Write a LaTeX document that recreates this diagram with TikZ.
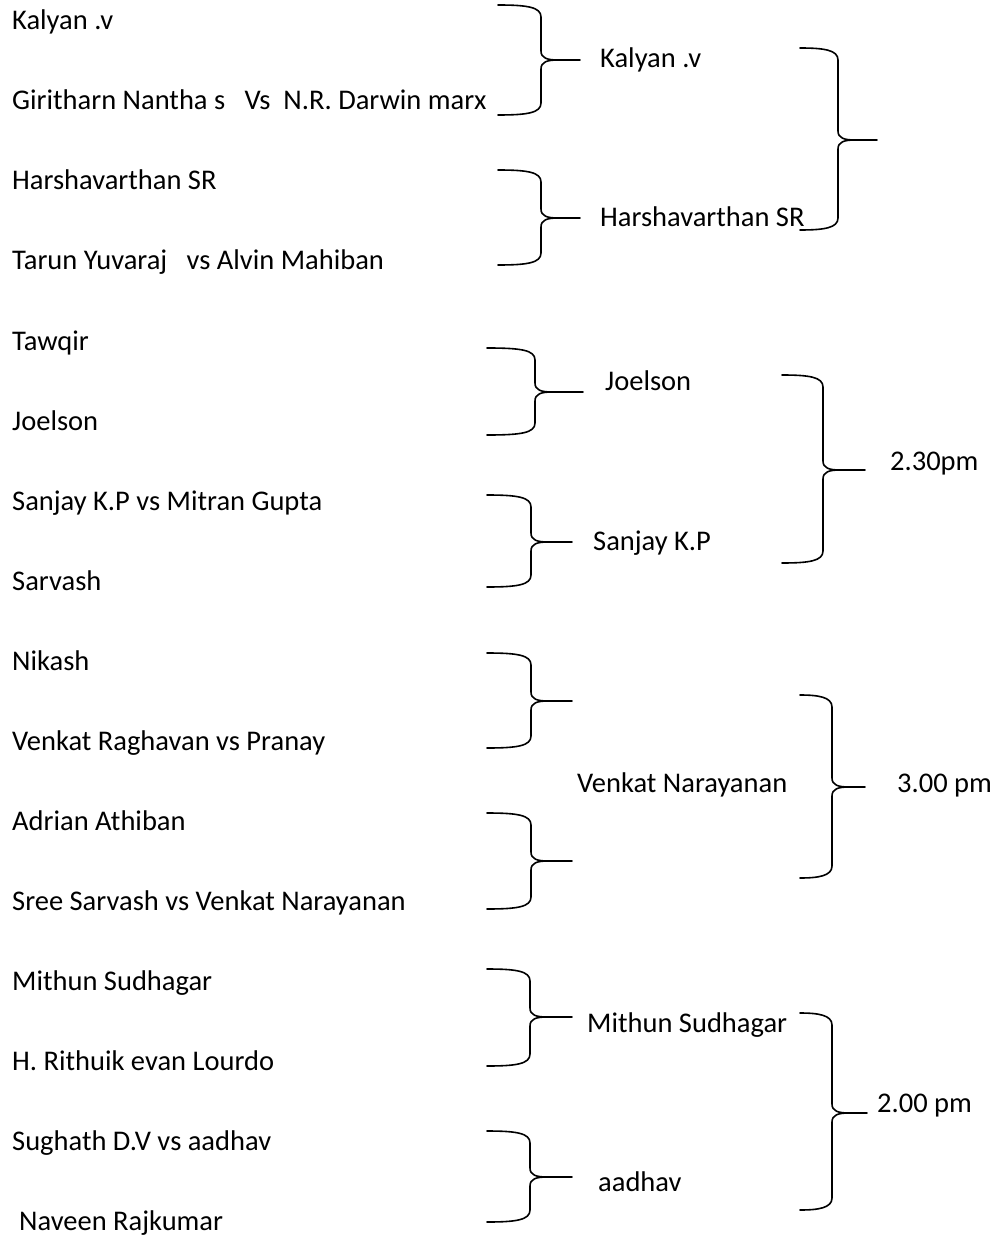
\documentclass[tikz,border=0pt]{standalone}
\usepackage{fontspec}
\setmainfont{Carlito}
\begin{document}
\begin{tikzpicture}[x=1pt,y=-1pt,
  lbl/.style={anchor=base west,inner sep=0pt,font=\fontsize{28.5}{34}\selectfont},
  brc/.style={line width=1.6pt,line join=round,line cap=round}]
\useasboundingbox (0,0) rectangle (995,1238);
% brace: x0 y0 y1 xs xt ym
\newcommand\mybrace[6]{%
  \draw[brc] (#1,#2) .. controls (#4-14,#2) and (#4,#2+2) .. (#4,#2+12)
    -- (#4,#6-9) .. controls (#4,#6-2) and (#4+6,#6) .. (#4+17,#6) -- (#5,#6)
    -- (#4+17,#6) .. controls (#4+6,#6) and (#4,#6+2) .. (#4,#6+9)
    -- (#4,#3-12) .. controls (#4,#3-2) and (#4-14,#3) .. (#1,#3);}
% left column
\node[lbl] (p1) at (12,30) {Kalyan .v};
\node[lbl] (p2) at (12,110) {Giritharn Nantha s \ \ Vs \ N.R. Darwin marx};
\node[lbl] (p3) at (12,190) {Harshavarthan SR};
\node[lbl] (p4) at (12,270) {Tarun Yuvaraj \ \ vs Alvin Mahiban};
\node[lbl] (p5) at (12,350) {Tawqir};
\node[lbl] (p6) at (12,430) {Joelson};
\node[lbl] (p7) at (12,510) {Sanjay K.P vs Mitran Gupta};
\node[lbl] (p8) at (12,590) {Sarvash};
\node[lbl] (p9) at (12,670) {Nikash};
\node[lbl] (p10) at (12,750) {Venkat Raghavan vs Pranay};
\node[lbl] (p11) at (12,830) {Adrian Athiban};
\node[lbl] (p12) at (12,910) {Sree Sarvash vs Venkat Narayanan};
\node[lbl] (p13) at (12,990) {Mithun Sudhagar};
\node[lbl] (p14) at (12,1070) {H. Rithuik evan Lourdo};
\node[lbl] (p15) at (12,1150) {Sughath D.V vs aadhav};
\node[lbl] (p16) at (19,1230) {Naveen Rajkumar};
% second column
\node[lbl] (w1) at (600,68) {Kalyan .v};
\node[lbl] (w2) at (600,227) {Harshavarthan SR};
\node[lbl] (w3) at (605,390) {Joelson};
\node[lbl] (w4) at (593,550) {Sanjay K.P};
\node[lbl] (w5) at (577,792) {Venkat Narayanan};
\node[lbl] (w7) at (587,1032) {Mithun Sudhagar};
\node[lbl] (w8) at (598,1191) {aadhav};
% times
\node[lbl] (t2) at (890,470) {2.30pm};
\node[lbl] (t3) at (897,792) {3.00 pm};
\node[lbl] (t4) at (877,1112) {2.00 pm};
% first-level braces
\mybrace{498}{5}{115}{541}{580}{60}
\mybrace{498}{170}{265}{541}{580}{218}
\mybrace{487}{348}{435}{535}{583}{392}
\mybrace{487}{495}{587}{531}{572}{542}
\mybrace{487}{653}{748}{531}{572}{701}
\mybrace{487}{813}{909}{531}{572}{861}
\mybrace{487}{969}{1066}{530}{572}{1017}
\mybrace{487}{1131}{1222}{530}{572}{1177}
% second-level braces
\mybrace{800}{48}{230}{838}{877}{140}
\mybrace{782}{375}{563}{823}{865}{470}
\mybrace{800}{695}{878}{832}{865}{787}
\mybrace{800}{1013}{1210}{832}{867}{1113}
\end{tikzpicture}
\end{document}
